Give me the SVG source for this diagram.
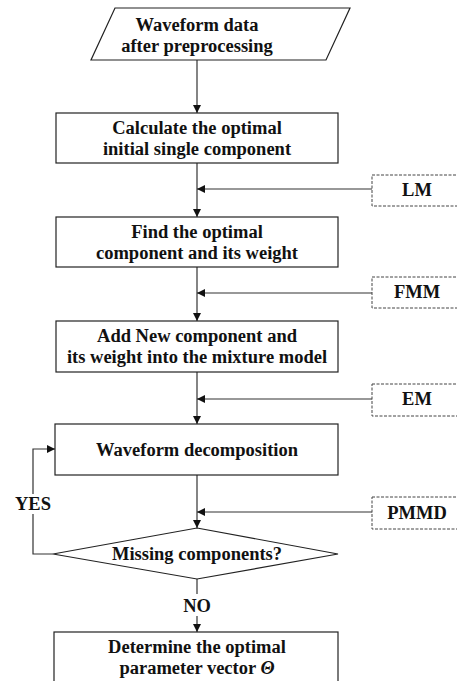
<svg xmlns="http://www.w3.org/2000/svg" width="457" height="681" viewBox="0 0 457 681">
<style>
.n{fill:#fff;stroke:#222;stroke-width:1.2}
.d{fill:#fff;stroke:#444;stroke-width:1;stroke-dasharray:3,1.5}
.c{fill:none;stroke:#333;stroke-width:1.2}
text{font-weight:bold;font-size:18.5px;fill:#111;text-anchor:middle}
</style>
<defs>
<marker id="ah" viewBox="0 0 10 10" refX="10" refY="5" markerWidth="8" markerHeight="8" markerUnits="userSpaceOnUse" orient="auto">
<path d="M0,0 L10,5 L0,10 z" fill="#111"/>
</marker>
</defs>
<rect width="457" height="681" fill="#fff"/>
<g font-family="'Liberation Serif', 'Times New Roman', serif">
<g id="connectors">
<line class="c" x1="197" y1="60" x2="197" y2="113" marker-end="url(#ah)"/>
<line class="c" x1="197" y1="163" x2="197" y2="217" marker-end="url(#ah)"/>
<line class="c" x1="372" y1="189" x2="197" y2="189" marker-end="url(#ah)"/>
<line class="c" x1="197" y1="267" x2="197" y2="321" marker-end="url(#ah)"/>
<line class="c" x1="372" y1="293" x2="197" y2="293" marker-end="url(#ah)"/>
<line class="c" x1="197" y1="372" x2="197" y2="424" marker-end="url(#ah)"/>
<line class="c" x1="372" y1="399" x2="197" y2="399" marker-end="url(#ah)"/>
<line class="c" x1="197" y1="475" x2="197" y2="528" marker-end="url(#ah)"/>
<line class="c" x1="372" y1="512" x2="197" y2="512" marker-end="url(#ah)"/>
<polyline class="c" points="53,554 33,554 33,514"/>
<polyline class="c" points="33,494 33,449 55,449" marker-end="url(#ah)"/>
<line class="c" x1="197" y1="579" x2="197" y2="594"/>
<line class="c" x1="197" y1="616" x2="197" y2="632" marker-end="url(#ah)"/>
<text x="33" y="510">YES</text>
<text x="197" y="612">NO</text>
</g>
<g id="input">
<polygon class="n" points="115,8 350,8 326,60 91,60"/>
<text x="197" y="31">Waveform data</text>
<text x="197" y="52">after preprocessing</text>
</g>
<g id="calc">
<rect class="n" x="56" y="113" width="282" height="50"/>
<text x="197" y="134">Calculate the optimal</text>
<text x="197" y="155">initial single component</text>
</g>
<g id="lm">
<rect class="d" x="372" y="175" width="95" height="31"/>
<text x="417" y="196">LM</text>
</g>
<g id="find">
<rect class="n" x="56" y="217" width="282" height="50"/>
<text x="197" y="238">Find the optimal</text>
<text x="197" y="259">component and its weight</text>
</g>
<g id="fmm">
<rect class="d" x="372" y="277" width="95" height="31"/>
<text x="417" y="298">FMM</text>
</g>
<g id="add">
<rect class="n" x="56" y="321" width="282" height="51"/>
<text x="197" y="342">Add New component and</text>
<text x="197" y="363">its weight into the mixture model</text>
</g>
<g id="em">
<rect class="d" x="372" y="384" width="95" height="32"/>
<text x="417" y="405">EM</text>
</g>
<g id="decomp">
<rect class="n" x="55" y="424" width="283" height="51"/>
<text x="197" y="456">Waveform decomposition</text>
</g>
<g id="pmmd">
<rect class="d" x="372" y="497" width="95" height="32"/>
<text x="417" y="519">PMMD</text>
</g>
<g id="missing">
<polygon class="n" points="197,528 338,554 197,579 53,554"/>
<text x="197" y="560">Missing components?</text>
</g>
<g id="determine">
<rect class="n" x="54" y="632" width="284" height="60"/>
<text x="197" y="653">Determine the optimal</text>
<text x="197" y="674">parameter vector <tspan font-style="italic">Θ</tspan></text>
</g>
</g>
</svg>
